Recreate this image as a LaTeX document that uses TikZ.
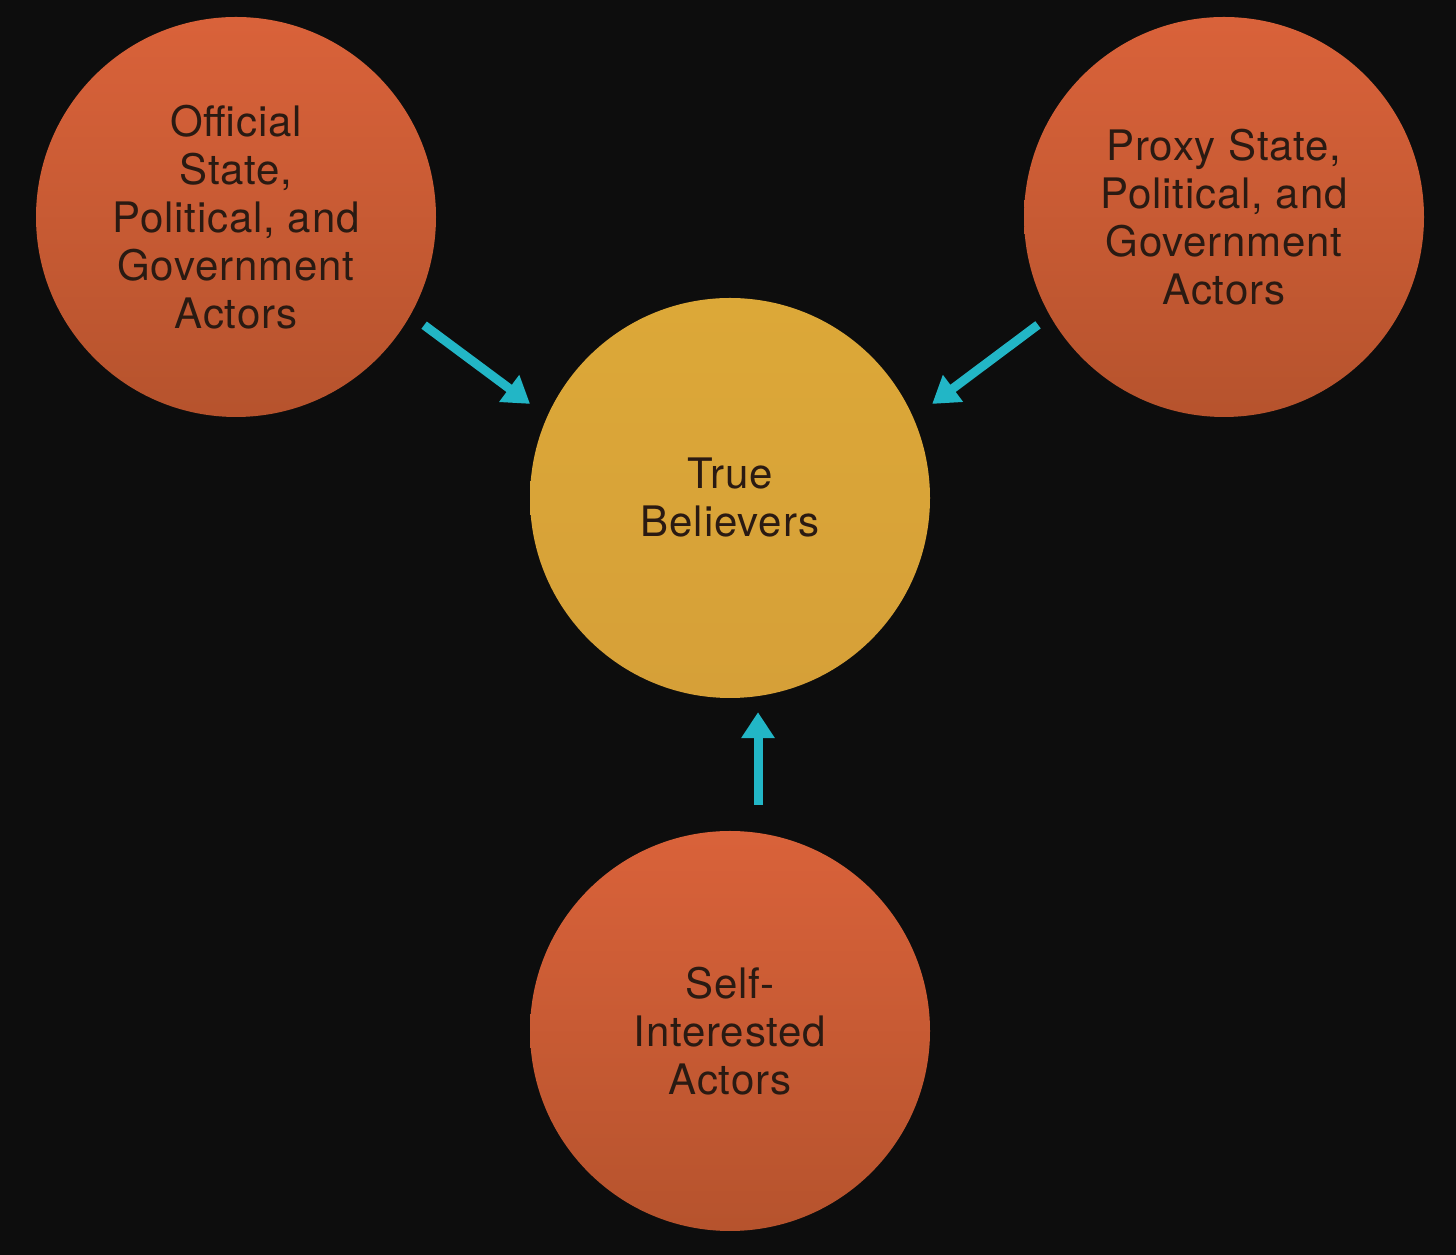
\documentclass[tikz,border=0pt]{standalone}
\usepackage{fontspec}
\setmainfont{TeX Gyre Heros}[LetterSpace=2]
\usetikzlibrary{arrows.meta,calc}
\definecolor{bg}{HTML}{0D0D0D}
\definecolor{orangetop}{HTML}{D9623A}
\definecolor{orangebot}{HTML}{B6532D}
\definecolor{goldtop}{HTML}{DCA838}
\definecolor{goldbot}{HTML}{D6A038}
\definecolor{arrowcyan}{HTML}{22B6C6}
\definecolor{txt}{HTML}{2A1A12}
\begin{document}
\begin{tikzpicture}[x=1pt,y=1pt,
  actor/.style={circle, minimum size=400pt, inner sep=0pt, align=center,
    top color=orangetop, bottom color=orangebot, text=txt,
    font=\fontsize{42}{48}\selectfont},
  core/.style={actor, top color=goldtop, bottom color=goldbot},
  flow/.style={draw=arrowcyan, line width=9pt,
    -{Triangle[length=26pt,width=32pt]}}
]
\fill[bg] (0,0) rectangle (1456,1255);
\useasboundingbox (0,0) rectangle (1456,1255);
\node[actor] (off) at (236,1038) {Official\\State,\\Political, and\\Government\\Actors};
\node[actor] (proxy) at (1224,1038) {Proxy State,\\Political, and\\Government\\Actors};
\node[core] (tb) at (730,757) {True\\Believers};
\node[actor] (self) at (730,224) {Self-\\Interested\\Actors};
\draw[flow] ($(off.center)+(-29.9:217pt)$) -- ($(tb.center)+(154.8:221pt)$);
\draw[flow] ($(proxy.center)+(210.1:215pt)$) -- ($(tb.center)+(24.95:223pt)$);
\draw[flow] ([xshift=28pt,yshift=26pt]self.north) -- ([xshift=28pt,yshift=-14pt]tb.south);
\end{tikzpicture}
\end{document}
